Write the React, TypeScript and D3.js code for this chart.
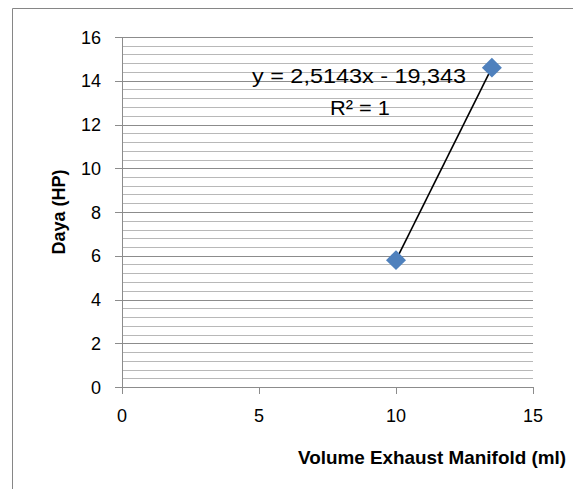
import { useEffect, useRef } from 'react';
import * as d3 from 'd3';

const volume = [10, 13.5];
const daya = [5.8, 14.6];
const xTicks = [0, 5, 10, 15];
const yTicks = [0, 2, 4, 6, 8, 10, 12, 14, 16];
const equation = 'y = 2,5143x - 19,343';
const rSquared = 'R² = 1';
const slope = 2.5143;
const intercept = -19.343;

const App = () => {
  const svgRef = useRef<SVGSVGElement>(null!);

  useEffect(() => {
    const width = 573;
    const height = 489;
    const left = 122;
    const right = 533;
    const top = 37;
    const bottom = 387;
    const font = '"Liberation Sans", Arial, sans-serif';

    const x = d3.scaleLinear().domain([0, 15]).range([left, right]);
    const y = d3.scaleLinear().domain([0, 16]).range([bottom, top]);

    const svg = d3.select(svgRef.current).attr('width', width).attr('height', height);

    // chart area border (only left and top visible)
    svg.append('path')
      .attr('d', `M12.5,${height} V8.5 H${width}`)
      .attr('fill', 'none')
      .attr('stroke', '#868686')
      .attr('stroke-width', 1);

    // minor gridlines
    const minor = d3.range(0, 16.001, 0.4).filter(v => Math.abs(v / 2 - Math.round(v / 2)) > 0.01);
    svg.append('g')
      .selectAll('line')
      .data(minor)
      .enter()
      .append('line')
      .attr('x1', left)
      .attr('x2', right)
      .attr('y1', d => Math.round(y(d)) + 0.5)
      .attr('y2', d => Math.round(y(d)) + 0.5)
      .attr('stroke', '#b8b8b8')
      .attr('stroke-width', 1);

    // major gridlines + y ticks
    svg.append('g')
      .selectAll('line')
      .data(yTicks)
      .enter()
      .append('line')
      .attr('x1', left - 7)
      .attr('x2', right)
      .attr('y1', d => Math.round(y(d)) + 0.5)
      .attr('y2', d => Math.round(y(d)) + 0.5)
      .attr('stroke', '#8c8c8c')
      .attr('stroke-width', 1);

    // y axis line
    svg.append('line')
      .attr('x1', left + 0.5).attr('x2', left + 0.5)
      .attr('y1', top).attr('y2', bottom + 7)
      .attr('stroke', '#8c8c8c');

    // x ticks
    svg.append('g')
      .selectAll('line')
      .data(xTicks)
      .enter()
      .append('line')
      .attr('x1', d => Math.round(x(d)) + 0.5)
      .attr('x2', d => Math.round(x(d)) + 0.5)
      .attr('y1', bottom)
      .attr('y2', bottom + 7)
      .attr('stroke', '#8c8c8c');

    // y tick labels
    svg.append('g')
      .selectAll('text')
      .data(yTicks)
      .enter()
      .append('text')
      .attr('x', 101)
      .attr('y', d => y(d) + 6.5)
      .attr('text-anchor', 'end')
      .attr('font-family', font)
      .attr('font-size', 18)
      .attr('fill', '#000')
      .text(d => d);

    // x tick labels
    svg.append('g')
      .selectAll('text')
      .data(xTicks)
      .enter()
      .append('text')
      .attr('x', d => x(d))
      .attr('y', 422)
      .attr('text-anchor', 'middle')
      .attr('font-family', font)
      .attr('font-size', 18)
      .attr('fill', '#000')
      .text(d => d);

    // trendline
    const line = d3.line<number>().x(d => x(d)).y(d => y(slope * d + intercept));
    svg.append('path')
      .attr('d', line([volume[0], volume[volume.length - 1]]))
      .attr('fill', 'none')
      .attr('stroke', '#000')
      .attr('stroke-width', 1.6);

    // markers
    const diamond = d3.symbol().type(d3.symbolSquare).size(200);
    svg.append('g')
      .selectAll('path')
      .data(volume.map((v, i) => [v, daya[i]]))
      .enter()
      .append('path')
      .attr('d', diamond)
      .attr('transform', d => `translate(${x(d[0])},${y(d[1])}) rotate(45)`)
      .attr('fill', '#4f81bd');

    // trendline label
    svg.append('text')
      .attr('x', 252)
      .attr('y', 83)
      .attr('font-family', font)
      .attr('font-size', 20)
      .attr('textLength', 214)
      .attr('lengthAdjust', 'spacingAndGlyphs')
      .text(equation);
    svg.append('text')
      .attr('x', 330)
      .attr('y', 115)
      .attr('font-family', font)
      .attr('font-size', 20)
      .attr('textLength', 60)
      .attr('lengthAdjust', 'spacingAndGlyphs')
      .text(rSquared);

    // axis titles
    svg.append('text')
      .attr('x', 298)
      .attr('y', 464)
      .attr('font-family', font)
      .attr('font-weight', 'bold')
      .attr('font-size', 19)
      .attr('textLength', 268)
      .attr('lengthAdjust', 'spacingAndGlyphs')
      .text('Volume Exhaust Manifold (ml)');
    svg.append('text')
      .attr('transform', 'translate(65,212) rotate(-90)')
      .attr('text-anchor', 'middle')
      .attr('font-family', font)
      .attr('font-weight', 'bold')
      .attr('font-size', 19)
      .attr('textLength', 85)
      .attr('lengthAdjust', 'spacingAndGlyphs')
      .text('Daya (HP)');

    return () => {
      svgRef.current.innerHTML = '';
    };
  }, []);

  return (
    <svg
      ref={svgRef}
      style={{ position: 'absolute', left: 0, top: 0, background: '#fff' }}
    ></svg>
  );
};

export default App;
